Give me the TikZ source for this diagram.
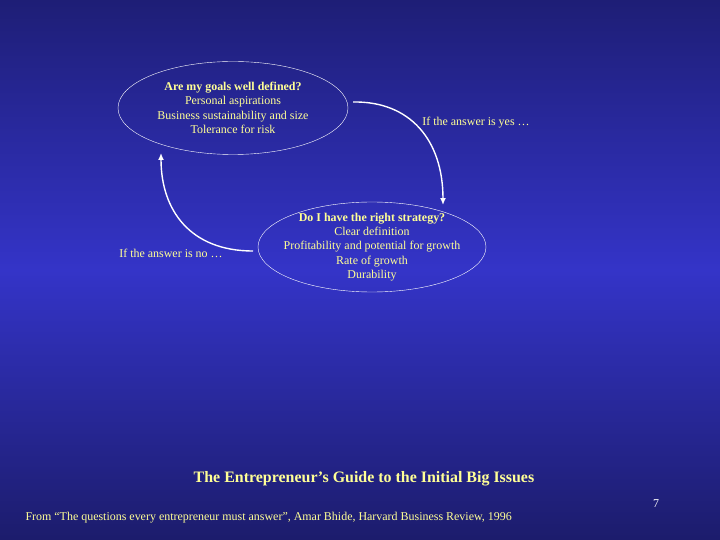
\documentclass[tikz,border=0pt]{standalone}
\usepackage{fontspec}
\setmainfont{Liberation Serif}
\usetikzlibrary{shapes.geometric, arrows.meta}
\definecolor{slidetop}{RGB}{30,30,118}
\definecolor{slidemid}{RGB}{52,52,200}
\definecolor{slidebot}{RGB}{28,28,108}
\definecolor{paleyellow}{RGB}{255,255,150}

\begin{document}
\begin{tikzpicture}[x=1bp, y=-1bp,
	question/.style={ellipse, draw=white, thin, minimum width=230bp, minimum height=93bp, inner xsep=-12bp, inner ysep=-6bp, align=center, text=paleyellow, font=\fontsize{12}{14.6}\selectfont},
	answer/.style={text=paleyellow, font=\fontsize{12}{14}\selectfont},
	loop/.style={draw=white, line width=1.4pt, -{Latex[length=7pt, width=6pt]}}]
		% background, dark at top and bottom, bright in the middle
		\shade[top color=slidetop, bottom color=slidemid] (0,0) rectangle (720,270);
		\shade[top color=slidemid, bottom color=slidebot] (0,270) rectangle (720,540);
		\useasboundingbox (0,0) rectangle (720,540);
		\node at (233,108) [question] (goals) {\textbf{Are my goals well defined?}\\Personal aspirations\\Business sustainability and size\\Tolerance for risk};
		\node at (372,247) [question, minimum width=228bp, minimum height=90bp, font=\fontsize{12}{14.4}\selectfont] (strategy) {\textbf{Do I have the right strategy?}\\Clear definition\\Profitability and potential for growth\\Rate of growth\\Durability};
		\coordinate (yesfrom) at (353,102);
		\coordinate (yesto) at (443,205);
		\coordinate (nofrom) at (253,251);
		\coordinate (noto) at (161,153);
		\draw[loop] (yesfrom) .. controls (410,101) and (443,140) .. (yesto);
		\draw[loop] (nofrom) .. controls (190,251) and (161,210) .. (noto);
		\node at (476,123) [answer] (yes) {If the answer is yes \dots};
		\node at (171,253) [answer] (no) {If the answer is no \dots};
		\node at (364,479) [text=paleyellow, font=\fontsize{16}{18}\selectfont\bfseries] (title) {The Entrepreneur’s Guide to the Initial Big Issues};
		\node at (22,518) [anchor=west, text=paleyellow, font=\fontsize{12}{14}\selectfont] (source) {From “The questions every entrepreneur must answer”, Amar Bhide, Harvard Business Review, 1996};
		\node at (656,504) [text=white, font=\fontsize{12}{14}\selectfont] (page) {7};
\end{tikzpicture}
\end{document}
